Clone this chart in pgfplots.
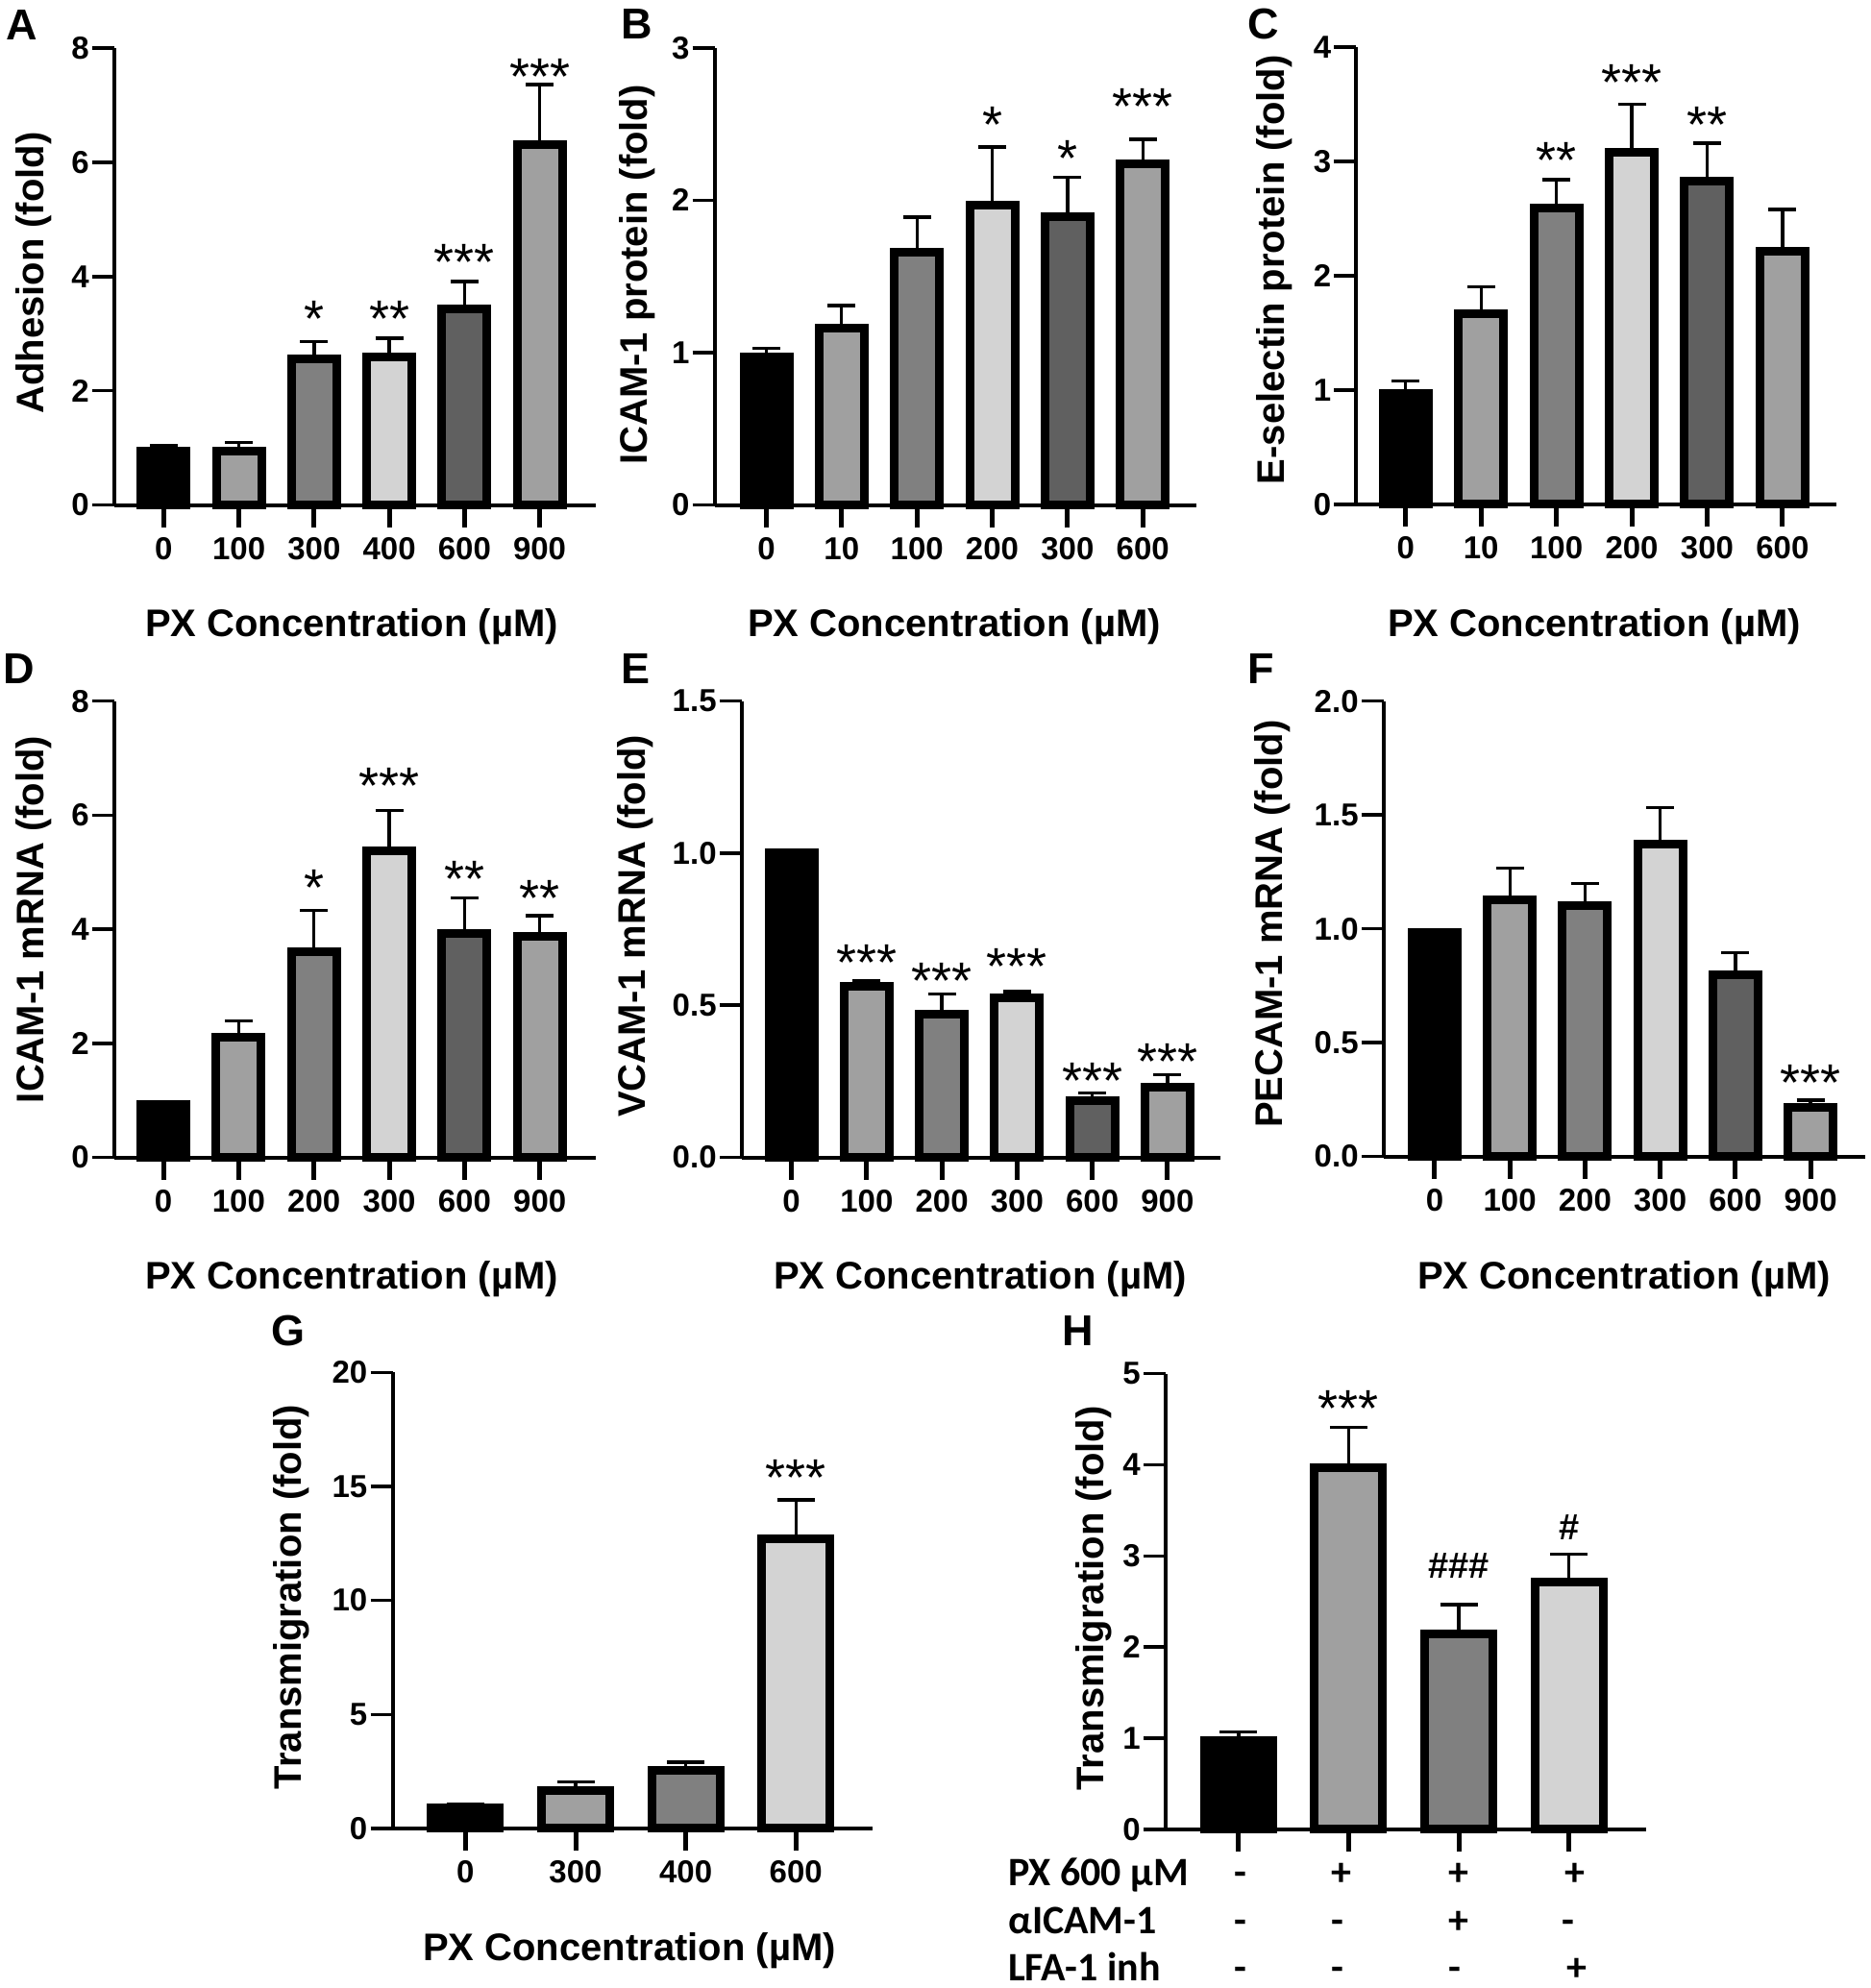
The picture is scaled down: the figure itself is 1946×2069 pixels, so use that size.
\documentclass[border=0pt]{standalone}
\usepackage{pgfplots}
\pgfplotsset{compat=1.18}
\usepackage{fontspec}
\setmainfont{Liberation Sans}
\newfontfamily\calib{Carlito}

\definecolor{gA}{gray}{0.627}
\definecolor{gB}{gray}{0.502}
\definecolor{gC}{gray}{0.827}
\definecolor{gD}{gray}{0.376}

\newcommand{\lab}{\fontsize{40}{40}\selectfont\bfseries}
\newcommand{\tck}{\fontsize{33}{33}\selectfont\bfseries}
\newcommand{\pbar}[4]{\addplot[draw=black, line width=9pt, fill=#1] coordinates {(#2,#3) +- (0,#4)};}
\newcommand{\nbar}[3]{\addplot[draw=black, line width=9pt, fill=#1, error bars/y dir=none] coordinates {(#2,#3)};}

\tikzset{
  star/.style={font=\fontsize{54}{54}\selectfont\mdseries, anchor=base, yshift=-24.5pt, inner sep=0pt},
  hash/.style={font=\fontsize{38}{38}\selectfont\bfseries, anchor=base, yshift=-13pt, inner sep=0pt},
  plab/.style={font=\fontsize{45}{45}\selectfont\bfseries, anchor=base west, inner sep=0pt},
  ylab/.style={font=\lab, rotate=90, anchor=center, inner sep=0pt},
  xlab/.style={font=\lab, anchor=base, inner sep=0pt},
  rowlab/.style={font=\calib\fontsize{42}{42}\selectfont\bfseries, anchor=base west, inner sep=0pt},
  sgn/.style={font=\calib\fontsize{42}{42}\selectfont\bfseries, anchor=base, inner sep=0pt},
}

\pgfplotsset{
  panel/.style={
    scale only axis,
    anchor=south west,
    axis x line=bottom, axis y line=left,
    axis line style={-, line width=4pt, black},
    tick align=outside, major tick length=23pt,
    xtick style={line width=5pt, black},
    ytick style={line width=3.5pt, black},
    ymin=0, clip=false,
    ybar, bar width=0.60, bar shift=0pt,
    /pgf/number format/assume math mode=true,
    tick label style={font=\tck},
    xticklabel style={anchor=base, inner sep=0pt, yshift=-33.6pt},
    yticklabel style={anchor=east, inner sep=0pt, xshift=-3pt},
    error bars/y dir=plus, error bars/y explicit,
    error bars/error bar style={line width=3.3pt, black},
    error bars/error mark options={rotate=90, line width=3.3pt, black, mark size=14.5pt},
  },
  four/.style={
    bar width=0.62,
    error bars/error mark options={rotate=90, line width=3.3pt, black, mark size=19.5pt},
  },
  onedec/.style={
    yticklabel style={/pgf/number format/fixed, /pgf/number format/fixed zerofill, /pgf/number format/precision=1},
  },
}

\begin{document}
\begin{tikzpicture}
\useasboundingbox (0pt,0pt) rectangle (1946pt,-2069pt);

% ---------- A ----------
\begin{axis}[panel, at={(119pt,-525.6pt)}, width=500.7pt, height=475.7pt,
  xmin=-0.657, xmax=5.743, ymax=8, ytick={0,2,4,6,8},
  xtick={0,...,5}, xticklabels={0,100,300,400,600,900}]
\pbar{black}{0}{0.95}{0.10}
\pbar{gA}{1}{0.95}{0.14}
\pbar{gB}{2}{2.55}{0.31}
\pbar{gC}{3}{2.60}{0.32}
\pbar{gD}{4}{3.44}{0.47}
\pbar{gA}{5}{6.31}{1.05}
\node[star] at (axis cs:2,3.36) {*};
\node[star] at (axis cs:3,3.36) {**};
\node[star] at (axis cs:4,4.35) {***};
\node[star] at (axis cs:5,7.59) {***};
\end{axis}

% ---------- B ----------
\begin{axis}[panel, at={(743.6pt,-525.6pt)}, width=501.6pt, height=475.7pt,
  xmin=-0.688, xmax=5.715, ymax=3, ytick={0,1,2,3},
  xtick={0,...,5}, xticklabels={0,10,100,200,300,600}]
\pbar{black}{0}{0.97}{0.06}
\pbar{gA}{1}{1.16}{0.15}
\pbar{gB}{2}{1.66}{0.23}
\pbar{gC}{3}{1.97}{0.38}
\pbar{gD}{4}{1.89}{0.26}
\pbar{gA}{5}{2.24}{0.16}
\node[star] at (axis cs:3,2.53) {*};
\node[star] at (axis cs:4,2.31) {*};
\node[star] at (axis cs:5,2.65) {***};
\end{axis}

% ---------- C ----------
\begin{axis}[panel, at={(1411.3pt,-524.8pt)}, width=500pt, height=475.8pt,
  xmin=-0.657, xmax=5.72, ymax=4, ytick={0,1,2,3,4},
  xtick={0,...,5}, xticklabels={0,10,100,200,300,600}]
\pbar{black}{0}{0.97}{0.11}
\pbar{gA}{1}{1.67}{0.23}
\pbar{gB}{2}{2.59}{0.25}
\pbar{gC}{3}{3.08}{0.42}
\pbar{gD}{4}{2.83}{0.33}
\pbar{gA}{5}{2.21}{0.37}
\node[star] at (axis cs:2,3.06) {**};
\node[star] at (axis cs:3,3.74) {***};
\node[star] at (axis cs:4,3.37) {**};
\end{axis}

% ---------- D ----------
\begin{axis}[panel, at={(119pt,-1204.5pt)}, width=500.7pt, height=474.8pt,
  xmin=-0.651, xmax=5.74, ymax=8, ytick={0,2,4,6,8},
  xtick={0,...,5}, xticklabels={0,100,200,300,600,900}]
\nbar{black}{0}{0.93}
\pbar{gA}{1}{2.11}{0.28}
\pbar{gB}{2}{3.61}{0.72}
\pbar{gC}{3}{5.37}{0.71}
\pbar{gD}{4}{3.92}{0.63}
\pbar{gA}{5}{3.87}{0.37}
\node[star] at (axis cs:2,4.82) {*};
\node[star] at (axis cs:3,6.62) {***};
\node[star] at (axis cs:4,4.98) {**};
\node[star] at (axis cs:5,4.65) {**};
\end{axis}

% ---------- E ----------
\begin{axis}[panel, onedec, at={(771.8pt,-1204.5pt)}, width=498.2pt, height=474.8pt,
  xmin=-0.662, xmax=5.704, ymax=1.5, ytick={0,0.5,1,1.5},
  xtick={0,...,5}, xticklabels={0,100,200,300,600,900}]
\nbar{black}{0}{1.0}
\pbar{gA}{1}{0.563}{0.017}
\pbar{gB}{2}{0.471}{0.066}
\pbar{gC}{3}{0.524}{0.021}
\pbar{gD}{4}{0.186}{0.025}
\pbar{gA}{5}{0.232}{0.039}
\node[star] at (axis cs:1,0.660) {***};
\node[star] at (axis cs:2,0.598) {***};
\node[star] at (axis cs:3,0.646) {***};
\node[star] at (axis cs:4,0.271) {***};
\node[star] at (axis cs:5,0.334) {***};
\end{axis}

% ---------- F ----------
\begin{axis}[panel, onedec, at={(1439.8pt,-1203.6pt)}, width=500.8pt, height=473.9pt,
  xmin=-0.679, xmax=5.722, ymax=2, ytick={0,0.5,1,1.5,2},
  xtick={0,...,5}, xticklabels={0,100,200,300,600,900}]
\nbar{black}{0}{0.984}
\pbar{gA}{1}{1.127}{0.141}
\pbar{gB}{2}{1.101}{0.097}
\pbar{gC}{3}{1.37}{0.162}
\pbar{gD}{4}{0.80}{0.095}
\pbar{gA}{5}{0.217}{0.030}
\node[star] at (axis cs:5,0.349) {***};
\end{axis}

% ---------- G ----------
\begin{axis}[panel, four, at={(408.5pt,-1902.9pt)}, width=499.9pt, height=474.6pt,
  xmin=-0.6625, xmax=3.70, ymax=20, ytick={0,5,10,15,20},
  xtick={0,...,3}, xticklabels={0,300,400,600}]
\pbar{black}{0}{0.89}{0.17}
\pbar{gA}{1}{1.67}{0.37}
\pbar{gB}{2}{2.54}{0.37}
\pbar{gC}{3}{12.72}{1.69}
\node[star] at (axis cs:3,15.65) {***};
\end{axis}

% ---------- H ----------
\begin{axis}[panel, four, at={(1212.9pt,-1903.8pt)}, width=499.9pt, height=474.1pt,
  xmin=-0.663, xmax=3.70, ymax=5, ytick={0,1,2,3,4,5},
  xtick={0,...,3}, xticklabels={{},{},{},{}}]
\pbar{black}{0}{0.973}{0.093}
\pbar{gA}{1}{3.97}{0.44}
\pbar{gB}{2}{2.14}{0.325}
\pbar{gC}{3}{2.71}{0.31}
\node[star] at (axis cs:1,4.68) {***};
\node[hash] at (axis cs:2,2.89) {\#\#\#};
\node[hash] at (axis cs:3,3.32) {\#};
\end{axis}

% ---------- panel letters ----------
\node[plab] at (6pt,-41pt) {A};
\node[plab] at (646pt,-40pt) {B};
\node[plab] at (1298pt,-40pt) {C};
\node[plab] at (3pt,-711pt) {D};
\node[plab] at (646pt,-711pt) {E};
\node[plab] at (1298pt,-711pt) {F};
\node[plab] at (282pt,-1400pt) {G};
\node[plab] at (1105pt,-1400pt) {H};

% ---------- y labels ----------
\node[ylab] at (35pt,-284pt) {Adhesion (fold)};
\node[ylab] at (663.6pt,-286pt) {ICAM-1 protein (fold)};
\node[ylab] at (1326.4pt,-280.7pt) {E-selectin protein (fold)};
\node[ylab] at (35.2pt,-957pt) {ICAM-1 mRNA (fold)};
\node[ylab] at (660.7pt,-963.8pt) {VCAM-1 mRNA (fold)};
\node[ylab] at (1324.3pt,-961.6pt) {PECAM-1 mRNA (fold)};
\node[ylab] at (303.6pt,-1662pt) {Transmigration (fold)};
\node[ylab] at (1138.6pt,-1663.4pt) {Transmigration (fold)};

% ---------- x labels ----------
\node[xlab] at (366pt,-662pt) {PX Concentration (µM)};
\node[xlab] at (993pt,-662pt) {PX Concentration (µM)};
\node[xlab] at (1659pt,-662pt) {PX Concentration (µM)};
\node[xlab] at (366pt,-1341pt) {PX Concentration (µM)};
\node[xlab] at (1020pt,-1341pt) {PX Concentration (µM)};
\node[xlab] at (1690pt,-1341pt) {PX Concentration (µM)};
\node[xlab] at (655pt,-2040pt) {PX Concentration (µM)};

% ---------- H treatment rows ----------
\node[rowlab] at (1049pt,-1962pt) {PX 600 µM};
\node[rowlab] at (1049pt,-2012pt) {αICAM-1};
\node[rowlab] at (1049pt,-2061pt) {LFA-1 inh};
\node[sgn] at (1291pt,-1962pt) {-};
\node[sgn] at (1396pt,-1962pt) {+};
\node[sgn] at (1518pt,-1962pt) {+};
\node[sgn] at (1639pt,-1962pt) {+};
\node[sgn] at (1291pt,-2012pt) {-};
\node[sgn] at (1392pt,-2012pt) {-};
\node[sgn] at (1518pt,-2012pt) {+};
\node[sgn] at (1632pt,-2012pt) {-};
\node[sgn] at (1291pt,-2061pt) {-};
\node[sgn] at (1392pt,-2061pt) {-};
\node[sgn] at (1514pt,-2061pt) {-};
\node[sgn] at (1641pt,-2061pt) {+};
\end{tikzpicture}
\end{document}
